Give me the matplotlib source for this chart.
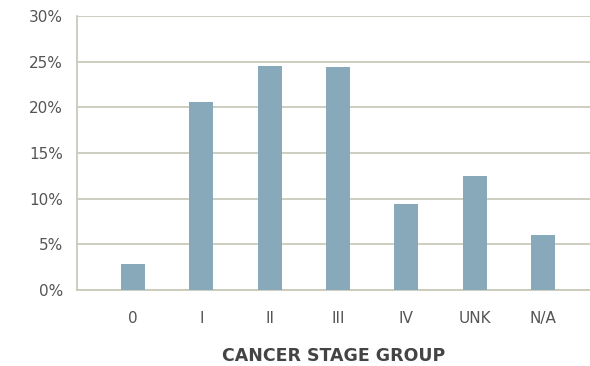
import numpy as np
import matplotlib.pyplot as plt
from matplotlib.ticker import FuncFormatter

# distribuicao por estadio
estadios = ['0', 'I', 'II', 'III', 'IV', 'UNK', 'N/A']
percentuais = [2.8, 20.6, 24.5, 24.4, 9.4, 12.5, 6.0]

cor_barra = '#87a9b9'
cor_grade = '#cacabb'
cor_texto = '#555555'

fig = plt.figure(figsize=(5.9, 3.66), dpi=100)
ax = fig.add_axes([0.1305, 0.2077, 0.8695, 0.7486])

x = np.arange(len(estadios))
ax.bar(x, percentuais, width=0.35, color=cor_barra, zorder=3)

ax.set_xlim(-0.82, 6.69)
ax.set_ylim(0, 30)
ax.set_yticks(np.arange(0, 31, 5))
ax.yaxis.set_major_formatter(FuncFormatter(lambda v, p: '%d%%' % v))
ax.set_xticks(x)
ax.set_xticklabels(estadios)

ax.grid(axis='y', color=cor_grade, linewidth=1.3, zorder=0)
for lado in ['top', 'right']:
    ax.spines[lado].set_visible(False)
for lado in ['left', 'bottom']:
    ax.spines[lado].set_color(cor_grade)
    ax.spines[lado].set_linewidth(1.3)

ax.tick_params(axis='both', length=0, labelsize=11, colors=cor_texto)
ax.tick_params(axis='y', pad=10)
ax.tick_params(axis='x', pad=15)

ax.set_xlabel('CANCER STAGE GROUP', fontsize=12.5, fontweight='bold',
              color='#444444', labelpad=15)

plt.savefig('out.png', dpi=100)
